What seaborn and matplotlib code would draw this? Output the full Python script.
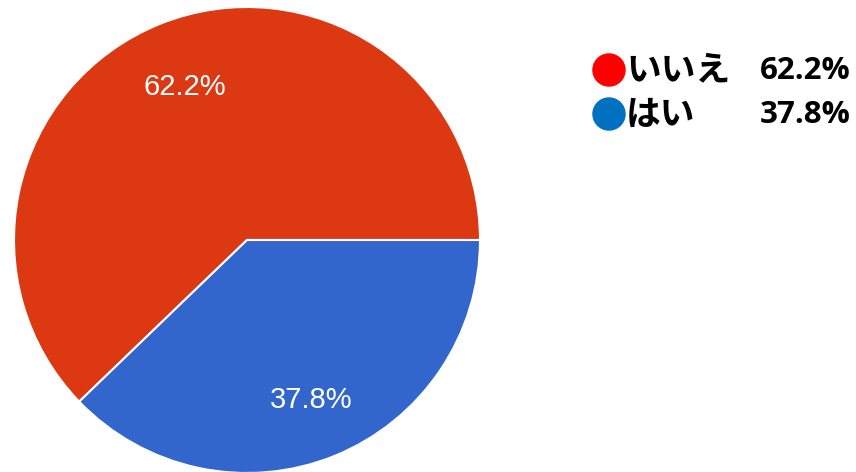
import numpy as np
import pandas as pd
import matplotlib
matplotlib.use('Agg')
import matplotlib.pyplot as plt
import seaborn as sns

# answers (legend order) and shares
labels = ['いいえ', 'はい']
shares = [62.2, 37.8]
pie_colors = ['#DC3912', '#3366CC']
legend_colors = ['#FF0000', '#0070C0']
label_dist = [0.71, 0.74]

sns.set_theme(style='white')
plt.rcParams['font.family'] = ['Liberation Sans', 'DejaVu Sans']

df = pd.DataFrame({'answer': labels, 'share': shares})

W, H = 856, 472
fig = plt.figure(figsize=(W / 100, H / 100), dpi=100)

# pie axes: center (247, 240) px, radius 233 px
cx, cy, r = 247, 240, 233
ax = fig.add_axes([(cx - r) / W, (H - cy - r) / H, 2 * r / W, 2 * r / H])
wedges, texts, autotexts = ax.pie(
    df['share'], colors=pie_colors, startangle=0, counterclock=True,
    autopct='%.1f%%', pctdistance=0.74, radius=1.0,
    wedgeprops=dict(edgecolor='white', linewidth=1.5),
    textprops=dict(color='white', fontsize=21))
# nudge each percentage along its wedge's bisector
for w, t, d in zip(wedges, autotexts, label_dist):
    mid = np.deg2rad((w.theta1 + w.theta2) / 2)
    t.set_position((d * np.cos(mid), d * np.sin(mid)))
ax.set_xlim(-1, 1)
ax.set_ylim(-1, 1)
ax.set_aspect('equal')
ax.axis('off')

# legend drawn in a pixel-coordinate overlay
lax = fig.add_axes([0, 0, 1, 1])
lax.set_xlim(0, W)
lax.set_ylim(H, 0)
lax.axis('off')
rows_y = [70, 114]
lax.scatter([609] * len(labels), rows_y, s=580, c=legend_colors, edgecolors='none')
for name, val, y in zip(df['answer'], df['share'], rows_y):
    lax.text(626, y, name, fontsize=25, fontweight='bold', va='center', ha='left',
             color='black', family=['Noto Sans CJK JP'])
    lax.text(851, y + 1, f'{val:.1f}%', fontsize=22.5, fontweight='bold', va='center', ha='right',
             color='black', family=['Open Sans', 'DejaVu Sans'])

fig.savefig('out.png', dpi=100)
